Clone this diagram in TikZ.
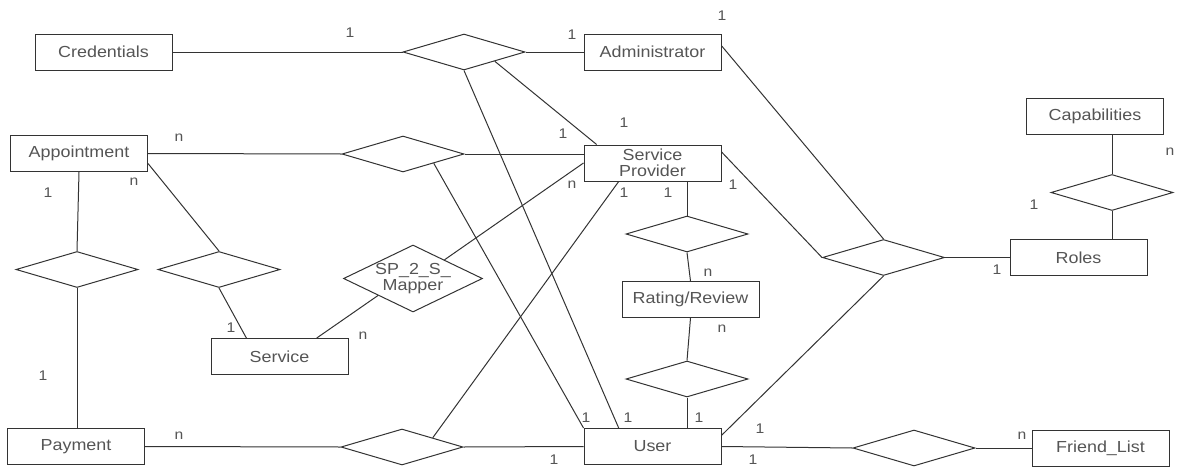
\documentclass[tikz,border=0pt]{standalone}
\usepackage{fontspec}
\setmainfont{Liberation Sans}[FakeStretch=1.12]
\usetikzlibrary{shapes.geometric,calc}
\definecolor{linec}{HTML}{333333}
\definecolor{txt}{HTML}{555555}
\newcommand{\entfont}{\fontsize{16}{16.5}\selectfont}
\newcommand{\cardfont}{\fontsize{14}{14}\selectfont}
\begin{document}
\begin{tikzpicture}[x=1pt,y=-1pt,line width=1pt,
  ent/.style={draw=linec,fill=white,rectangle,minimum width=137pt,minimum height=36pt,
              inner sep=0pt,font=\entfont,text=txt,align=center},
  rel/.style={draw=linec,fill=white,diamond,minimum width=122pt,minimum height=36pt,inner sep=0pt},
  card/.style={font=\cardfont,text=txt,inner sep=0pt},
  conn/.style={draw=linec,line width=1pt}]
\useasboundingbox (0,0) rectangle (1181,466);

% entities
\node[ent] (cred)   at (103.5,52)  {Credentials};
\node[ent] (admin)  at (652.5,52)  {Administrator};
\node[ent] (appt)   at (79,153.5)  {Appointment};
\node[ent] (sp)     at (652.5,163) {Service\\Provider};
\node[ent] (cap)    at (1095,116)  {Capabilities};
\node[ent] (roles)  at (1078.5,257.5) {Roles};
\node[ent] (rating) at (690.5,299.5) {Rating/Review};
\node[ent] (serv)   at (279.5,356.5) {Service};
\node[ent] (pay)    at (76,446.5)  {Payment};
\node[ent] (user)   at (652.5,446.5) {User};
\node[ent] (friend) at (1100.5,448) {Friend\_List};

% relationships
\node[rel] (d1)   at (464,52)    {};
\node[rel] (d2)   at (403,154)   {};
\node[rel] (d5)   at (77,269.5)  {};
\node[rel] (d6)   at (219,269.5) {};
\node[rel,minimum width=139pt,minimum height=67pt,
  label={[name=maptxt,font=\entfont,text=txt,align=center,inner sep=0pt]center:{SP\_2\_S\_\\Mapper}}]
  (map) at (413,278.5) {};
\node[rel] (d3)   at (687,234)   {};
\node[rel] (d4)   at (687,379)   {};
\node[rel] (dr)   at (883.5,257.5) {};
\node[rel] (dcap) at (1112,192.5) {};
\node[rel] (dp)   at (402,447)   {};
\node[rel] (df)   at (914,448)   {};

% connectors
\draw[conn] (cred.east) -- (d1.west);
\draw[conn] (d1.east) -- (admin.west);
\draw[conn] (d1.south) -- ($(user.north west)!0.255!(user.north east)$);
\draw[conn] ($(d1.south)!0.5!(d1.east)$) -- ($(sp.north west)!0.095!(sp.north east)$);
\draw[conn] (appt.east) -- (d2.west);
\draw[conn] (d2.east) -- (d2.east -| sp.west);
\draw[conn] ($(d2.south)!0.5!(d2.east)$) -- (user.north west);
\draw[conn] (sp.west) -- ($(map.north)!0.45!(map.east)$);
\draw[conn] ($(sp.south west)!0.255!(sp.south east)$) -- ($(dp.north)!0.5!(dp.east)$);
\draw[conn] (d3.north |- sp.south) -- (d3.north);
\draw[conn] ($(sp.north east)!0.2!(sp.south east)$) -- (dr.west);
\draw[conn] ($(admin.north east)!0.33!(admin.south east)$) -- (dr.north);
\draw[conn] (dr.south) -- ($(user.north east)!0.2!(user.south east)$);
\draw[conn] (dr.east) -- (roles.west);
\draw[conn] (dcap.south) -- (dcap.south |- roles.north);
\draw[conn] (dcap.north) -- (dcap.north |- cap.south);
\draw[conn] (d3.south) -- (rating.north);
\draw[conn] (rating.south) -- (d4.north);
\draw[conn] (d4.south) -- (d4.south |- user.north);
\draw[conn] (user.east) -- (df.west);
\draw[conn] (df.east) -- (friend.west);
\draw[conn] (pay.east) -- (dp.west);
\draw[conn] (dp.east) -- (user.west);
\draw[conn] (appt.south) -- (d5.north);
\draw[conn] (d5.south) -- (d5.south |- pay.north);
\draw[conn] ($(appt.north east)!0.77!(appt.south east)$) -- (d6.north);
\draw[conn] (d6.south) -- ($(serv.north west)!0.26!(serv.north east)$);
\draw[conn] ($(serv.north west)!0.77!(serv.north east)$) -- ($(map.west)!0.5!(map.south)$);

% cardinalities
\node[card] (c1)  at (350,33)  {1};
\node[card] (c2)  at (572,35)  {1};
\node[card] (c3)  at (722,16)  {1};
\node[card] (c4)  at (179,138) {n};
\node[card] (c5)  at (134,182) {n};
\node[card] (c6)  at (48,193)  {1};
\node[card] (c7)  at (563,134) {1};
\node[card] (c8)  at (624,123) {1};
\node[card] (c9)  at (572,185) {n};
\node[card] (c10) at (624,193) {1};
\node[card] (c11) at (668,193) {1};
\node[card] (c12) at (733,185) {1};
\node[card] (c13) at (1170,152) {n};
\node[card] (c14) at (1034,205) {1};
\node[card] (c15) at (997,270) {1};
\node[card] (c16) at (708,273) {n};
\node[card] (c17) at (722,329) {n};
\node[card] (c18) at (231,328) {1};
\node[card] (c19) at (363,336) {n};
\node[card] (c20) at (43,376)  {1};
\node[card] (c21) at (179,436) {n};
\node[card] (c22) at (586,418) {1};
\node[card] (c23) at (628,418) {1};
\node[card] (c24) at (699,418) {1};
\node[card] (c25) at (760,429) {1};
\node[card] (c26) at (554,460) {1};
\node[card] (c27) at (753,460) {1};
\node[card] (c28) at (1022,436) {n};
\end{tikzpicture}
\end{document}
